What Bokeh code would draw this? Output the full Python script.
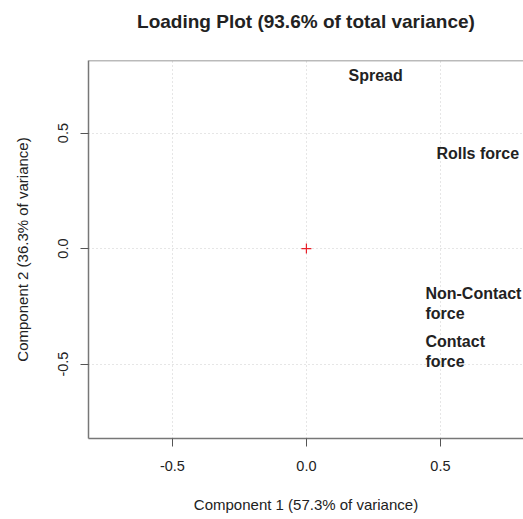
from bokeh.plotting import figure
from bokeh.models import Range1d, Span, FixedTicker, ColumnDataSource, Title
from bokeh.core.properties import value
from bokeh.embed import file_html
from bokeh.resources import INLINE

# data (loadings; labels left-anchored)
labels = ["Spread", "Rolls force", "Non-Contact\nforce", "Contact\nforce"]
comp1 = [0.157, 0.485, 0.444, 0.444]
comp2 = [0.749, 0.411, -0.238, -0.445]
ticks = [-0.5, 0.0, 0.5]
tick_labels = ["-0.5", "0.0", "0.5"]
title_text = "Loading Plot (93.6% of total variance)"
xlabel = "Component 1 (57.3% of variance)"
ylabel = "Component 2 (36.3% of variance)"

X0, X1 = -0.813, 0.81
Y0, Y1 = -0.822, 0.814

p = figure(width=523, height=519, output_backend="svg", toolbar_location=None,
           x_range=Range1d(X0, X1), y_range=Range1d(Y0, Y1),
           min_border_left=88, min_border_right=0, min_border_top=60, min_border_bottom=81)
p.outline_line_color = None

# spacer (nearest the frame) then the real title above it
p.add_layout(Title(text=" ", text_font_size="16px", standoff=10), "above")
p.add_layout(Title(text=title_text, align="center", text_font="Liberation Sans",
                   text_font_size="19px", text_font_style="bold",
                   text_color="#222222", standoff=0), "above")

overrides = {t: s for t, s in zip(ticks, tick_labels)}
for ax in (p.xaxis[0], p.yaxis[0]):
    ax.ticker = FixedTicker(ticks=ticks)
    ax.major_label_overrides = overrides
    ax.minor_tick_line_color = None
    ax.major_tick_in = 0
    ax.major_tick_out = 8
    ax.major_tick_line_color = "#555555"
    ax.axis_line_color = "#777777"
    ax.axis_line_width = 1.5
    ax.major_label_text_font = "Liberation Sans"
    ax.major_label_text_font_size = "14.5px"
    ax.major_label_text_color = "#222222"
    ax.axis_label_text_font = "Liberation Sans"
    ax.axis_label_text_font_size = "15px"
    ax.axis_label_text_font_style = "normal"
    ax.axis_label_text_color = "#222222"
p.xaxis[0].axis_label = xlabel
p.yaxis[0].axis_label = ylabel
p.xaxis[0].major_label_standoff = 14
p.xaxis[0].axis_label_standoff = 22
p.yaxis[0].major_label_orientation = "vertical"
p.yaxis[0].major_label_standoff = 12
p.yaxis[0].axis_label_standoff = 25

p.grid.grid_line_color = "#cccccc"
p.grid.grid_line_dash = "1 3"
p.xgrid.ticker = FixedTicker(ticks=ticks)
p.ygrid.ticker = FixedTicker(ticks=ticks)

p.add_layout(Span(location=Y1, dimension="width", line_color="#777777", line_width=1.5))

p.scatter([0], [0], marker="cross", size=10, color="#e8202a", line_width=1.2)

src = ColumnDataSource(dict(x=comp1, y=comp2, t=labels))
p.text("x", "y", text="t", source=src, text_font=value("Liberation Sans"),
       text_font_size="16px", text_font_style="bold", text_color="#222222",
       text_align="left", text_baseline="middle", text_line_height=1.2)

open("out.html", "w").write(file_html(p, INLINE))
